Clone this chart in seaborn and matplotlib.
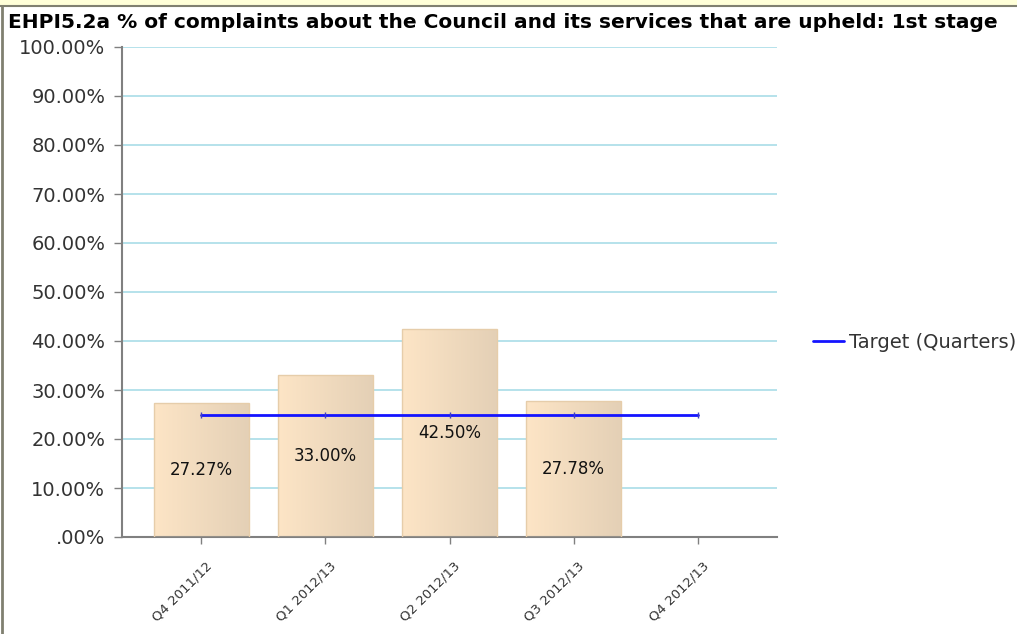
import numpy as np
import pandas as pd
import matplotlib
matplotlib.use("Agg")
import matplotlib.pyplot as plt
from matplotlib.lines import Line2D
from matplotlib.colors import LinearSegmentedColormap
import seaborn as sns

# ---- data ----
categories = ["Q4 2011/12", "Q1 2012/13", "Q2 2012/13", "Q3 2012/13", "Q4 2012/13"]
actual_values = [27.27, 33.00, 42.50, 27.78, np.nan]
bar_labels = ["27.27%", "33.00%", "42.50%", "27.78%", ""]
target_values = [25, 25, 25, 25, 25]
y_ticks = [0, 10, 20, 30, 40, 50, 60, 70, 80, 90, 100]
y_tick_labels = [".00%", "10.00%", "20.00%", "30.00%", "40.00%", "50.00%",
                 "60.00%", "70.00%", "80.00%", "90.00%", "100.00%"]
title = "EHPI5.2a % of complaints about the Council and its services that are upheld: 1st stage"
legend_label = "Target (Quarters)"

sns.set_theme(style="white")
plt.rcParams["font.family"] = ["DejaVu Sans"]

W, H = 1017, 634
fig = plt.figure(figsize=(W / 100, H / 100), dpi=100)
fig.patch.set_facecolor("white")

# outer decoration: yellow strip at top, grey borders
fig.patches.append(plt.Rectangle((0, 1 - 5 / H), 1, 5 / H, transform=fig.transFigure,
                                 facecolor="#FFFFD8", edgecolor="none", zorder=0))
fig.lines.append(Line2D([0, 1], [1 - 5.5 / H, 1 - 5.5 / H], transform=fig.transFigure,
                        color="#808070", lw=1.5))
fig.lines.append(Line2D([2 / W, 2 / W], [0, 1 - 5.5 / H], transform=fig.transFigure,
                        color="#808070", lw=2))

ax = fig.add_axes([122 / W, 1 - 537 / H, (777 - 122) / W, (537 - 47) / H])

df = pd.DataFrame({"period": categories, "value": actual_values})
sns.barplot(data=df, x="period", y="value", order=categories, ax=ax,
            width=0.76, color="#F5DEC0", edgecolor="#E6CDAA", linewidth=1, zorder=3)

# alternating bands
for lo in [10, 30, 50, 70, 90]:
    ax.axhspan(lo, lo + 10, color="#F3F5FC", zorder=0.5, lw=0)
for y in y_ticks[1:]:
    ax.axhline(y, color="#A9DDE7", lw=1.2, zorder=1)

# gradient fill on bars
cmap = LinearSegmentedColormap.from_list("g", ["#FDE5C6", "#E4D0B6"])
grad = np.linspace(0, 1, 256).reshape(1, -1)
for p in list(ax.patches):
    h = p.get_height()
    if not np.isfinite(h) or h == 0:
        continue
    x0 = p.get_x(); w = p.get_width()
    im = ax.imshow(grad, cmap=cmap, aspect="auto", extent=[x0, x0 + w, 0, h],
                   zorder=2.5, interpolation="bicubic")
    im.set_clip_path(p)
    p.set_facecolor("none")
ax.set_xlim(-0.64, len(categories) - 1 + 0.64)
ax.set_ylim(0, 100)

# value labels at mid height
for i, (v, lab) in enumerate(zip(actual_values, bar_labels)):
    if np.isfinite(v):
        ax.text(i, v / 2, lab, ha="center", va="center", fontsize=12,
                color="#111111", zorder=6)

# target line
xs = np.arange(len(categories))
sns.lineplot(x=xs, y=target_values, ax=ax, color="#1414FF", lw=2, zorder=5,
             marker="|", markersize=4, markeredgewidth=1, markeredgecolor="#4040C0",
             legend=False)

ax.set_xticks(xs)
ax.set_xticklabels([""] * len(categories))
for i, cat in enumerate(categories):
    ax.annotate(cat, xy=(i, 0), xycoords=("data", "axes fraction"),
                xytext=(9, -27), textcoords="offset pixels", ha="right", va="center",
                rotation=45, rotation_mode="anchor", fontsize=9.5, color="#333333",
                annotation_clip=False)
ax.set_yticks(y_ticks)
ax.set_yticklabels(y_tick_labels, fontsize=14, color="#333333")
ax.set_xlabel("")
ax.set_ylabel("")
ax.tick_params(axis="y", length=6, color="#808080", width=1, pad=6, left=True)
ax.tick_params(axis="x", length=5, color="#808080", width=1, pad=0, bottom=True)
for s in ["top", "right"]:
    ax.spines[s].set_visible(False)
for s in ["left", "bottom"]:
    ax.spines[s].set_color("#808080")
    ax.spines[s].set_linewidth(1.5)
ax.set_facecolor("white")

fig.text(8 / W, 1 - 23 / H, title, fontsize=14.5, fontweight="bold",
         ha="left", va="center", color="black")

handle = Line2D([], [], color="#1414FF", lw=2)
fig.legend([handle], [legend_label], loc="center left",
           bbox_to_anchor=(795 / W, 1 - 342 / H), frameon=False,
           fontsize=14, handlelength=1.6, handletextpad=0.3, labelcolor="#333333")

fig.savefig("out.png", dpi=100)
